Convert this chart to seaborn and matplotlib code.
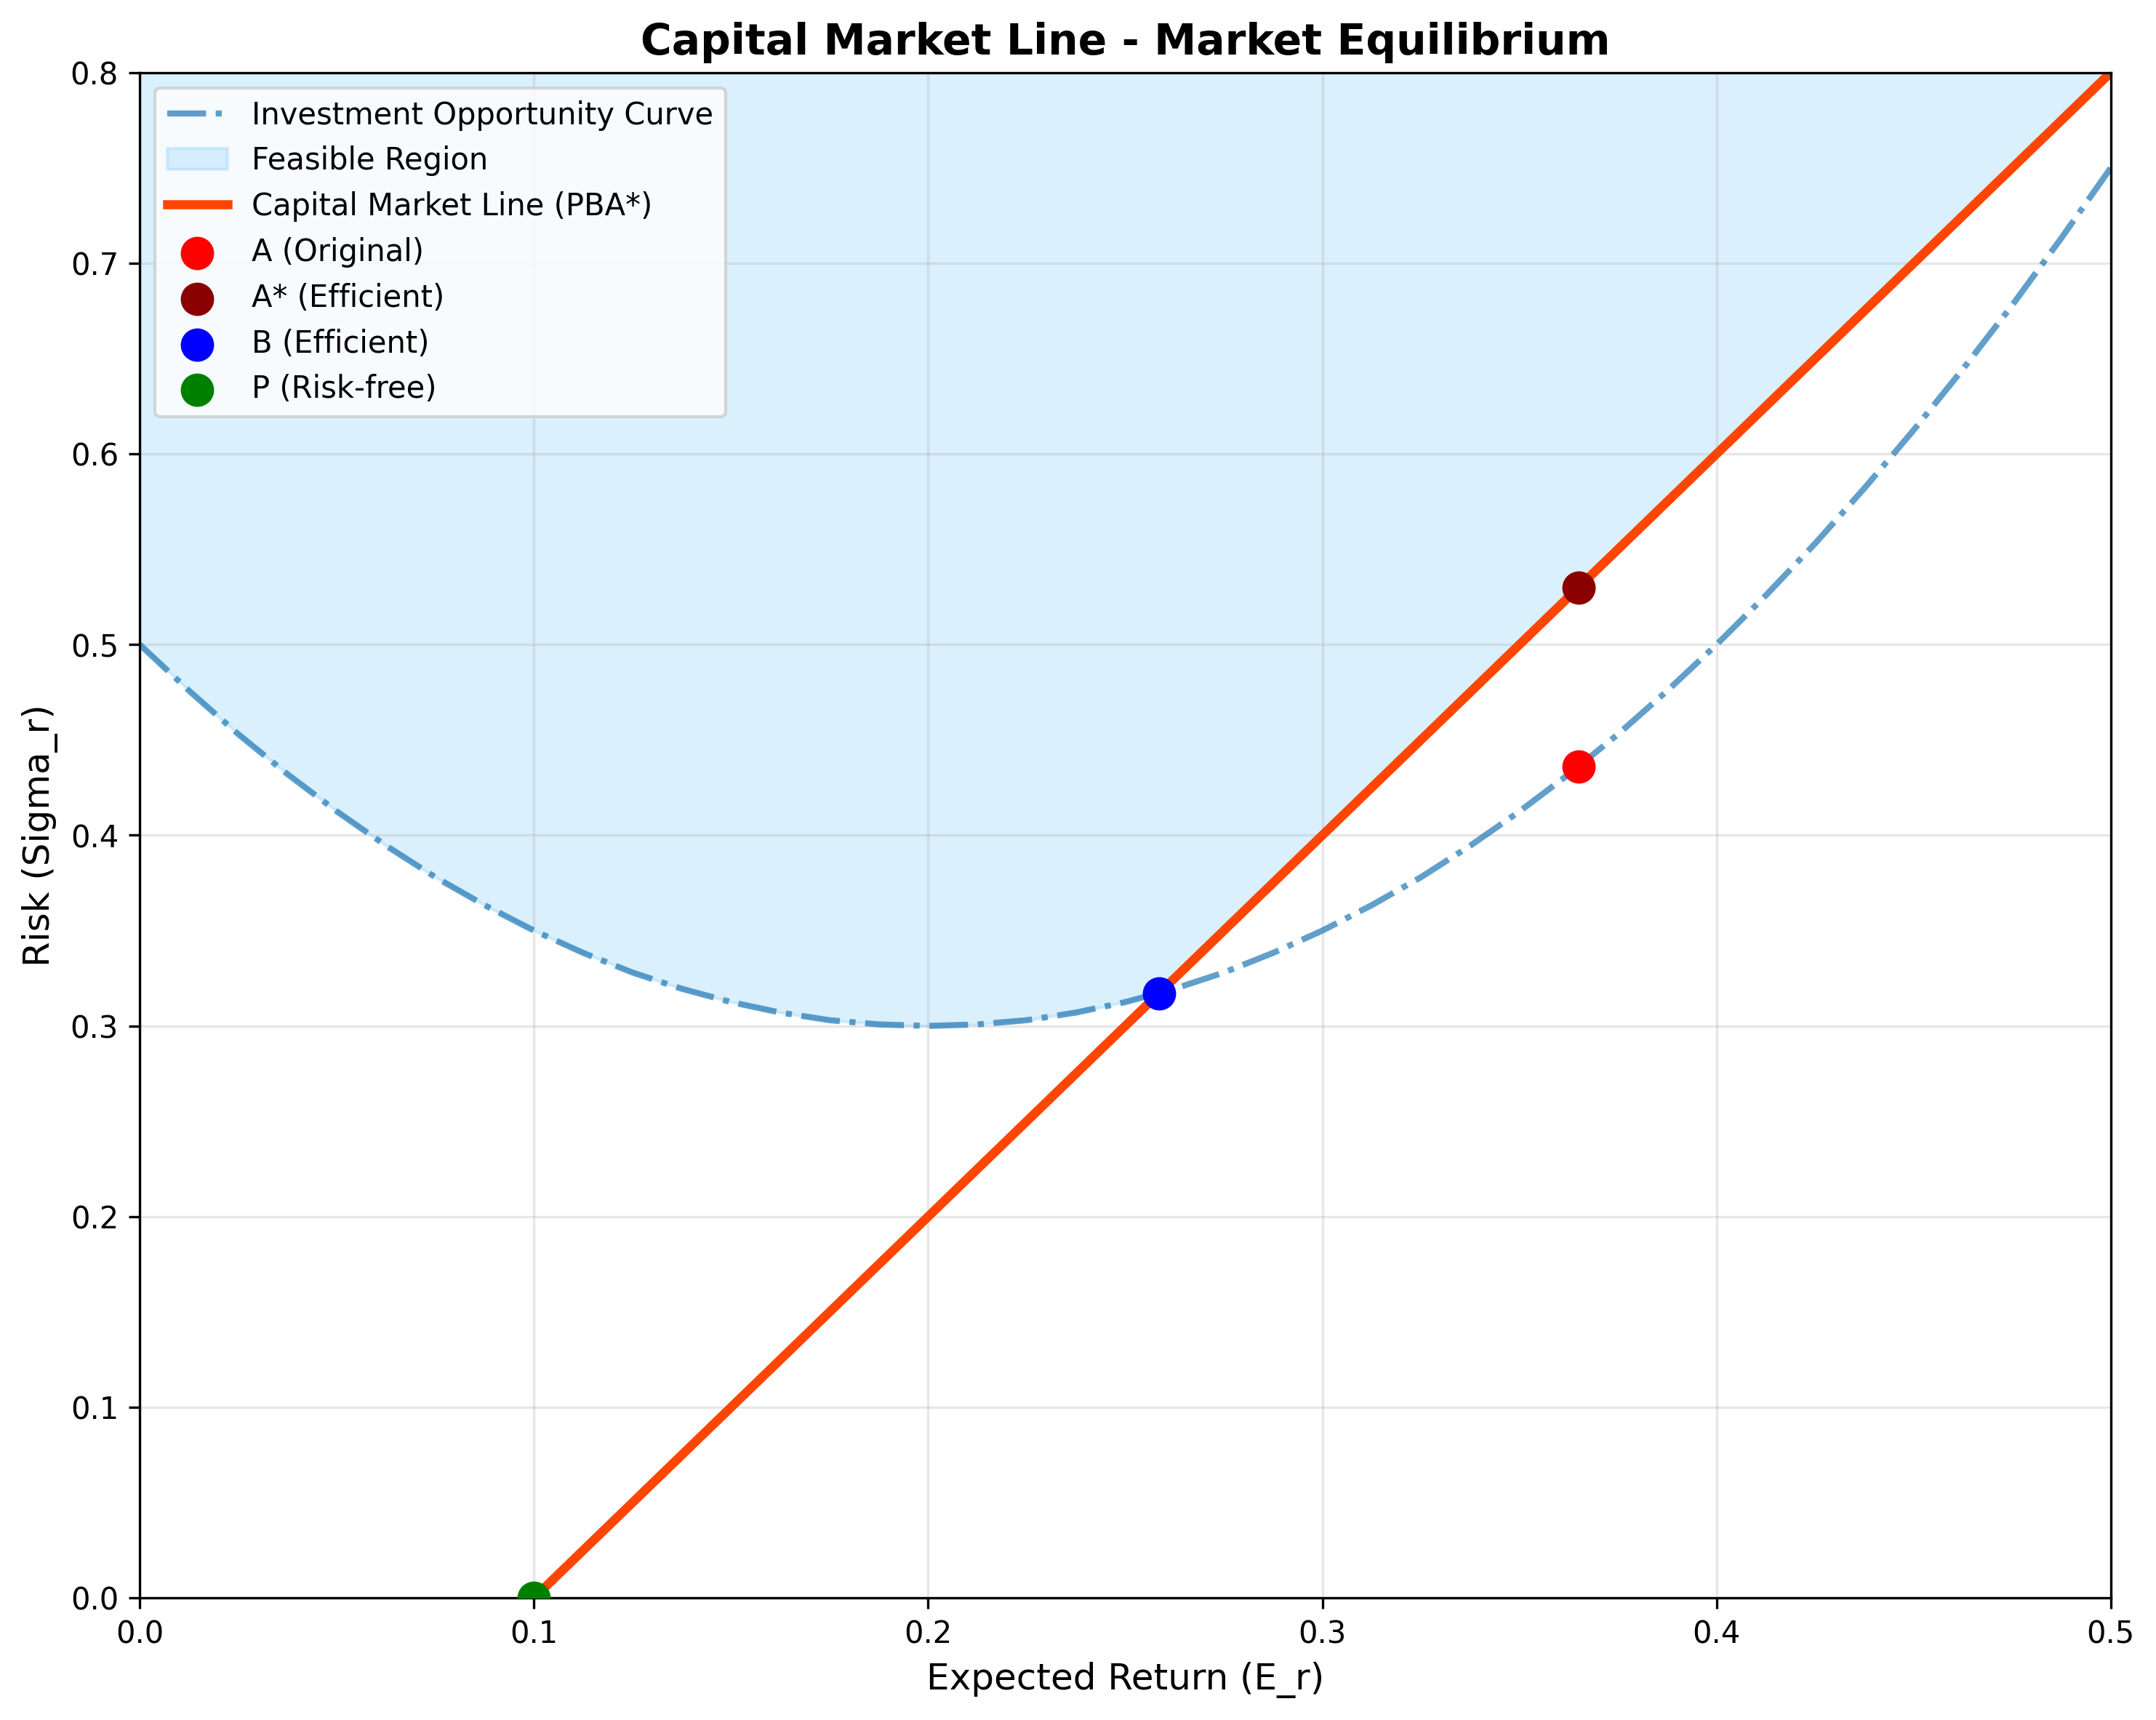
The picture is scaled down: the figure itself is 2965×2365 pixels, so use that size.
import matplotlib
matplotlib.use("Agg")
import matplotlib.pyplot as plt
import seaborn as sns
import pandas as pd
import numpy as np

# Investment opportunity curve
curve_E = [0.0, 0.0125, 0.025, 0.0375, 0.05, 0.0625, 0.075, 0.0875, 0.1, 0.1125,
           0.125, 0.1375, 0.15, 0.1625, 0.175, 0.1875, 0.2, 0.2125, 0.225, 0.2375,
           0.25, 0.2625, 0.275, 0.2875, 0.3, 0.3125, 0.325, 0.3375, 0.35, 0.3625,
           0.375, 0.3875, 0.4, 0.4125, 0.425, 0.4375, 0.45, 0.4625, 0.475, 0.4875, 0.5]
curve_sigma = [0.5, 0.4758, 0.453, 0.432, 0.4125, 0.3945, 0.378, 0.3633, 0.35, 0.3383,
               0.328, 0.3195, 0.3125, 0.307, 0.303, 0.3008, 0.3, 0.3008, 0.303, 0.307,
               0.3125, 0.3195, 0.328, 0.3383, 0.35, 0.3633, 0.378, 0.3945, 0.4125, 0.432,
               0.453, 0.4758, 0.5, 0.5258, 0.553, 0.582, 0.6125, 0.6445, 0.678, 0.7133, 0.75]
region_top = 0.8

# Capital market line endpoints
cml_E = [0.1, 0.5]
cml_sigma = [0.0, 0.8]

# Points
point_labels = ["A (Original)", "A* (Efficient)", "B (Efficient)", "P (Risk-free)"]
point_E = [0.365, 0.365, 0.2586, 0.1]
point_sigma = [0.436, 0.530, 0.3172, 0.0]
point_colors = ["red", "darkred", "blue", "green"]

fig, ax = plt.subplots(figsize=(10, 8))

curve_df = pd.DataFrame({"E": curve_E, "sigma": curve_sigma})
sns.lineplot(data=curve_df, x="E", y="sigma", ax=ax, color="#1f77b4", alpha=0.7,
             linewidth=2, linestyle="-.", label="Investment Opportunity Curve")

# Feasible region: above the curve and above the capital market line
fill_x = np.array(sorted(curve_E + [point_E[2]]))
lower = np.maximum(np.interp(fill_x, curve_E, curve_sigma),
                   np.interp(fill_x, cml_E, cml_sigma))
ax.fill_between(fill_x, lower, region_top, color="lightskyblue", alpha=0.3,
                label="Feasible Region")

cml_df = pd.DataFrame({"E": cml_E, "sigma": cml_sigma})
sns.lineplot(data=cml_df, x="E", y="sigma", ax=ax, color="orangered", linewidth=3,
             label="Capital Market Line (PBA*)")
for lab, e, s, c in zip(point_labels, point_E, point_sigma, point_colors):
    ax.scatter([e], [s], color=c, s=100, zorder=5, label=lab)

ax.set_xlim(0, 0.5)
ax.set_ylim(0, 0.8)
ax.set_xlabel("Expected Return (E_r)", fontsize=12)
ax.set_ylabel("Risk (Sigma_r)", fontsize=12)
ax.set_title("Capital Market Line - Market Equilibrium", fontsize=14, fontweight="bold")
ax.grid(True, alpha=0.3)
ax.legend(loc="upper left")

fig.tight_layout()
fig.savefig("out.png", dpi=300, bbox_inches="tight")
